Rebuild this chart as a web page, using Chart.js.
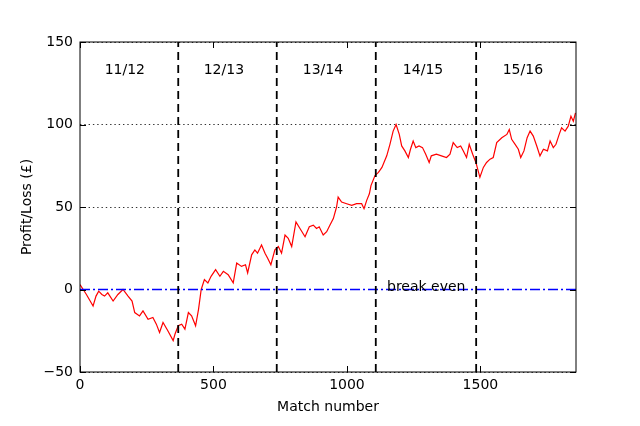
<!DOCTYPE html>
<html>
<head>
<meta charset="utf-8">
<script src="https://cdn.jsdelivr.net/npm/chart.js@4.4.1/dist/chart.umd.min.js"></script>
<style>
html,body{margin:0;padding:0;background:#fff;}
canvas{display:block;}
</style>
</head>
<body>
<canvas id="c" width="640" height="426"></canvas>
<script>
// ---- data ----
const matchNo = [
  0,12,24,49,60,70,82,92,104,124,
  142,161,180,195,205,223,236,255,273,286,
  298,311,329,349,356,368,381,393,406,418,
  433,444,454,466,479,491,508,524,537,555,
  574,587,605,620,628,643,655,665,680,693,
  703,715,730,743,755,768,780,793,809,824,
  843,859,874,886,896,911,924,936,949,961,
  967,980,999,1018,1036,1055,1064,1074,1084,1090,
  1105,1118,1131,1149,1161,1173,1184,1196,1205,1217,
  1230,1238,1248,1258,1270,1283,1295,1308,1316,1335,
  1354,1373,1386,1398,1413,1426,1436,1448,1458,1471,
  1483,1498,1511,1523,1536,1548,1561,1580,1599,1608,
  1617,1630,1642,1651,1663,1675,1686,1698,1711,1723,
  1736,1751,1761,1773,1783,1795,1804,1817,1829,1839,
  1848,1856
];
const profit = [
  3,0,-3,-10,-4,-1,-3,-4,-2,-7,
  -3,0,-4,-7,-14,-16,-13,-18,-17,-21,
  -26,-20,-25,-31,-27,-22,-21,-24,-14,-16,
  -22,-12,0,6,4,8,12,8,11,9,
  4,16,14,15,10,21,24,22,27,22,
  19,15,24,26,22,33,31,26,41,37,
  32,38,39,37,38,33,35,39,43,50,
  56,53,52,51,52,52,49,54,58,63,
  69,71,74,81,88,96,100,94,87,84,
  80,85,90,86,87,86,82,77,81,82,
  81,80,82,89,86,87,84,80,88,82,
  77,68,74,77,79,80,89,92,94,97,
  91,88,85,80,84,92,96,93,87,81,
  85,84,90,86,88,94,98,96,99,105,
  102,107
];
const seasonBounds = [368, 737, 1108, 1484];
const seasonLabels = ['11/12', '12/13', '13/14', '14/15', '15/16'];
const seasonLabelX = [168, 539, 910, 1285, 1659];
const seasonLabelY = 133;
const breakEvenLabel = 'break even';
const breakEvenLabelX = 1150;
const breakEvenLevel = 0;
const xRange = [0, 1858];
const yRange = [-50, 150];
const xTicks = [0, 500, 1000, 1500];
const yTicks = [-50, 0, 50, 100, 150];

// ---- chart ----
Chart.defaults.font.family = 'DejaVu Sans';
Chart.defaults.font.size = 14;
Chart.defaults.color = '#000';

const datasets = [];
seasonBounds.forEach(b => {
  datasets.push({
    data: [{x: b, y: yRange[0]}, {x: b, y: yRange[1]}],
    borderColor: '#000', borderWidth: 1.8, borderDash: [8, 5],
    pointRadius: 0, showLine: true, fill: false
  });
});
datasets.push({
  data: [{x: xRange[0], y: breakEvenLevel}, {x: xRange[1], y: breakEvenLevel}],
  borderColor: '#0000ff', borderWidth: 1.5, borderDash: [10, 3, 2, 3],
  pointRadius: 0, showLine: true, fill: false
});
datasets.push({
  data: matchNo.map((m, i) => ({x: m, y: profit[i]})),
  borderColor: '#ff0000', borderWidth: 1.2,
  pointRadius: 0, showLine: true, fill: false, tension: 0
});

const framePlugin = {
  id: 'frame',
  afterDatasetsDraw(chart) {
    const {ctx, chartArea: a, scales: {x, y}} = chart;
    ctx.save();
    ctx.strokeStyle = '#000';
    ctx.lineWidth = 1;
    ctx.setLineDash([]);
    ctx.strokeRect(a.left, a.top, a.right - a.left, a.bottom - a.top);
    const tl = 6;
    ctx.beginPath();
    x.ticks.forEach(t => {
      const px = Math.round(x.getPixelForValue(t.value)) + 0.5;
      ctx.moveTo(px, a.bottom); ctx.lineTo(px, a.bottom - tl);
      ctx.moveTo(px, a.top); ctx.lineTo(px, a.top + tl);
    });
    y.ticks.forEach(t => {
      const py = Math.round(y.getPixelForValue(t.value)) + 0.5;
      ctx.moveTo(a.left, py); ctx.lineTo(a.left + tl, py);
      ctx.moveTo(a.right, py); ctx.lineTo(a.right - tl, py);
    });
    ctx.stroke();
    ctx.fillStyle = '#000';
    ctx.font = '14px "DejaVu Sans"';
    ctx.textAlign = 'center';
    ctx.textBaseline = 'middle';
    seasonLabels.forEach((s, i) => {
      ctx.fillText(s, x.getPixelForValue(seasonLabelX[i]), y.getPixelForValue(seasonLabelY));
    });
    ctx.textAlign = 'left';
    ctx.textBaseline = 'alphabetic';
    ctx.fillText(breakEvenLabel, x.getPixelForValue(breakEvenLabelX), y.getPixelForValue(breakEvenLevel) + 1);
    ctx.restore();
  }
};

new Chart(document.getElementById('c'), {
  type: 'scatter',
  data: {datasets},
  options: {
    responsive: false,
    animation: false,
    devicePixelRatio: 1,
    layout: {padding: {top: 42, right: 64, left: 0, bottom: 0}},
    plugins: {legend: {display: false}, tooltip: {enabled: false}},
    scales: {
      x: {
        type: 'linear', min: xRange[0], max: xRange[1],
        afterBuildTicks: s => { s.ticks = xTicks.map(v => ({value: v})); },
        afterFit: s => { s.height = 54; },
        grid: {display: false, drawTicks: false},
        border: {display: false},
        ticks: {padding: 5, color: '#000', maxRotation: 0, autoSkip: false, callback: v => String(v)},
        title: {display: true, text: 'Match number', color: '#000', padding: {top: 0, bottom: 10}}
      },
      y: {
        type: 'linear', min: yRange[0], max: yRange[1],
        afterBuildTicks: s => { s.ticks = yTicks.map(v => ({value: v})); },
        afterFit: s => { s.width = 80; },
        grid: {
          display: true, drawTicks: false, lineWidth: 1,
          color: c => (c.tick && c.tick.value === breakEvenLevel ? 'rgba(0,0,0,0)' : 'rgba(0,0,0,0.8)')
        },
        border: {display: false, dash: [1.4, 2.9]},
        ticks: {padding: 7, color: '#000', callback: v => (v < 0 ? '\u2212' + Math.abs(v) : String(v))},
        title: {display: true, text: 'Profit/Loss (£)', color: '#000', padding: {top: 19, bottom: 0}}
      }
    }
  },
  plugins: [framePlugin]
});
</script>
</body>
</html>
